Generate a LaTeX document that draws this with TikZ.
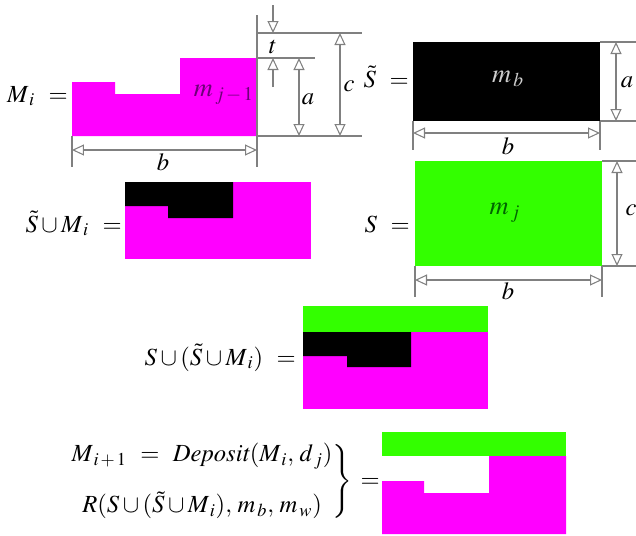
\documentclass[tikz,border=0pt]{standalone}
\usepackage{mathptmx}
\usepackage{tikz}
\usetikzlibrary{arrows.meta,positioning}
\definecolor{magentafill}{RGB}{255,0,255}
\definecolor{greenfill}{RGB}{51,255,0}
\definecolor{dimgray}{RGB}{128,128,128}
\definecolor{labelpurple}{RGB}{110,0,120}
\definecolor{labelgreen}{RGB}{0,100,0}
\definecolor{labellight}{RGB}{205,205,205}

\begin{document}
\begin{tikzpicture}[x=0.02cm,y=-0.02cm,
  eqn/.style={font=\fontsize{14}{17}\selectfont,inner sep=0pt},
  dimlabel/.style={font=\fontsize{14}{17}\selectfont,inner sep=0pt},
  masslabel/.style={font=\fontsize{15}{18}\selectfont,inner sep=0pt},
  extline/.style={draw=dimgray,line width=0.6pt},
  dimarrow/.style={draw=dimgray,line width=0.6pt,-{Triangle[open,length=2.4mm,width=2.2mm]}},
  dimboth/.style={draw=dimgray,line width=0.6pt,{Triangle[open,length=2.4mm,width=2.2mm]}-{Triangle[open,length=2.4mm,width=2.2mm]}}]
\useasboundingbox (0,0) rectangle (636,535);

% First Diagram: layer M_i with its dimensions
\fill[magentafill] (72,136) -- (72,82) -- (115,82) -- (115,94) -- (180,94) -- (180,58) -- (257,58) -- (257,136) -- cycle;
\node[eqn,anchor=base east] (Mi) at (68,102) {$M_{\,i}\ =$};
\node[masslabel,text=labelpurple] (mprev) at (224,95) {$m_{\,j\,-\,1}$};
\draw[extline] (257,15) -- (257,167);
\draw[extline] (72,136) -- (72,167);
\draw[extline] (257,33) -- (362,33);
\draw[extline] (257,58) -- (315,58);
\draw[extline] (257,136) -- (362,136);
\coordinate (ttop) at (273,5);
\coordinate (tup) at (273,33);
\coordinate (tlow) at (273,58);
\coordinate (tbot) at (273,87);
\draw[dimarrow] (ttop) -- (tup);
\draw[dimarrow] (tbot) -- (tlow);
\node[dimlabel] (tlab) at (273,47) {$t$};
\coordinate (aonetop) at (299,58);
\coordinate (aonebot) at (299,136);
\draw[dimboth] (aonetop) -- (aonebot);
\node[dimlabel] (aone) at (308,99) {$a$};
\coordinate (conetop) at (340,33);
\coordinate (conebot) at (340,136);
\draw[dimboth] (conetop) -- (conebot);
\node[dimlabel] (cone) at (349,86) {$c$};
\coordinate (boneleft) at (72,150);
\coordinate (boneright) at (257,150);
\draw[dimboth] (boneleft) -- (boneright);
\node[dimlabel] (bone) at (163,162) {$b$};

% Second Diagram: black block S~
\fill[black] (413,42) rectangle (600,121);
\node[eqn,anchor=base east] (Stilde) at (409,87) {$\tilde{S}\ =$};
\node[masslabel,text=labellight] (mb) at (508,79) {$m_{\,b}$};
\draw[extline] (600,42) -- (636,42);
\draw[extline] (600,121) -- (636,121);
\draw[extline] (413,121) -- (413,150);
\draw[extline] (600,121) -- (600,150);
\coordinate (atwotop) at (616,42);
\coordinate (atwobot) at (616,121);
\draw[dimboth] (atwotop) -- (atwobot);
\node[dimlabel] (atwo) at (627,82) {$a$};
\coordinate (btwoleft) at (413,133);
\coordinate (btworight) at (600,133);
\draw[dimboth] (btwoleft) -- (btworight);
\node[dimlabel] (btwo) at (508,146) {$b$};

% Third Diagram: union of S~ and M_i
\fill[magentafill] (125,182) rectangle (311,259);
\fill[black] (125,182) -- (233,182) -- (233,218) -- (168,218) -- (168,206) -- (125,206) -- cycle;
\node[eqn,anchor=base east] (StildeMi) at (122,232) {$\tilde{S}\cup M_{\,i}\ =$};

% Fourth Diagram: green block S
\fill[greenfill] (415,161) rectangle (602,266);
\node[eqn,anchor=base east] (S) at (410,232) {$S\ =$};
\node[masslabel,text=labelgreen] (mj) at (505,213) {$m_{\,j}$};
\draw[extline] (602,161) -- (636,161);
\draw[extline] (602,266) -- (636,266);
\draw[extline] (415,266) -- (415,297);
\draw[extline] (602,266) -- (602,297);
\coordinate (ctwotop) at (617,161);
\coordinate (ctwobot) at (617,266);
\draw[dimboth] (ctwotop) -- (ctwobot);
\node[dimlabel] (ctwo) at (631,210) {$c$};
\coordinate (bthreeleft) at (415,280);
\coordinate (bthreeright) at (602,280);
\draw[dimboth] (bthreeleft) -- (bthreeright);
\node[dimlabel] (bthree) at (508,291) {$b$};

% Fifth Diagram: S over the union
\fill[greenfill] (303,306) rectangle (488,332);
\fill[magentafill] (303,332) rectangle (488,409);
\fill[black] (303,332) -- (411,332) -- (411,367) -- (347,367) -- (347,356) -- (303,356) -- cycle;
\node[eqn,anchor=base east] (SStildeMi) at (296,365) {$S\cup(\tilde{S}\cup M_{\,i})\ =$};

% Sixth Diagram: deposited layer M_{i+1}
\fill[greenfill] (382,432) rectangle (566,456);
\fill[magentafill] (382,534) -- (382,481) -- (424,481) -- (424,493) -- (489,493) -- (489,456) -- (566,456) -- (566,534) -- cycle;
\node[eqn,anchor=east] (deposit) at (380,481)
  {$\left.\begin{array}{@{}c@{}} M_{\,i\,+\,1}\ =\ \mathit{Deposit}(M_{\,i},\, d_{\,j})\\[12pt] R(S\cup(\tilde{S}\cup M_{\,i}),\, m_{\,b},\, m_{\,w})\end{array}\right\}\,=$};
\end{tikzpicture}
\end{document}
